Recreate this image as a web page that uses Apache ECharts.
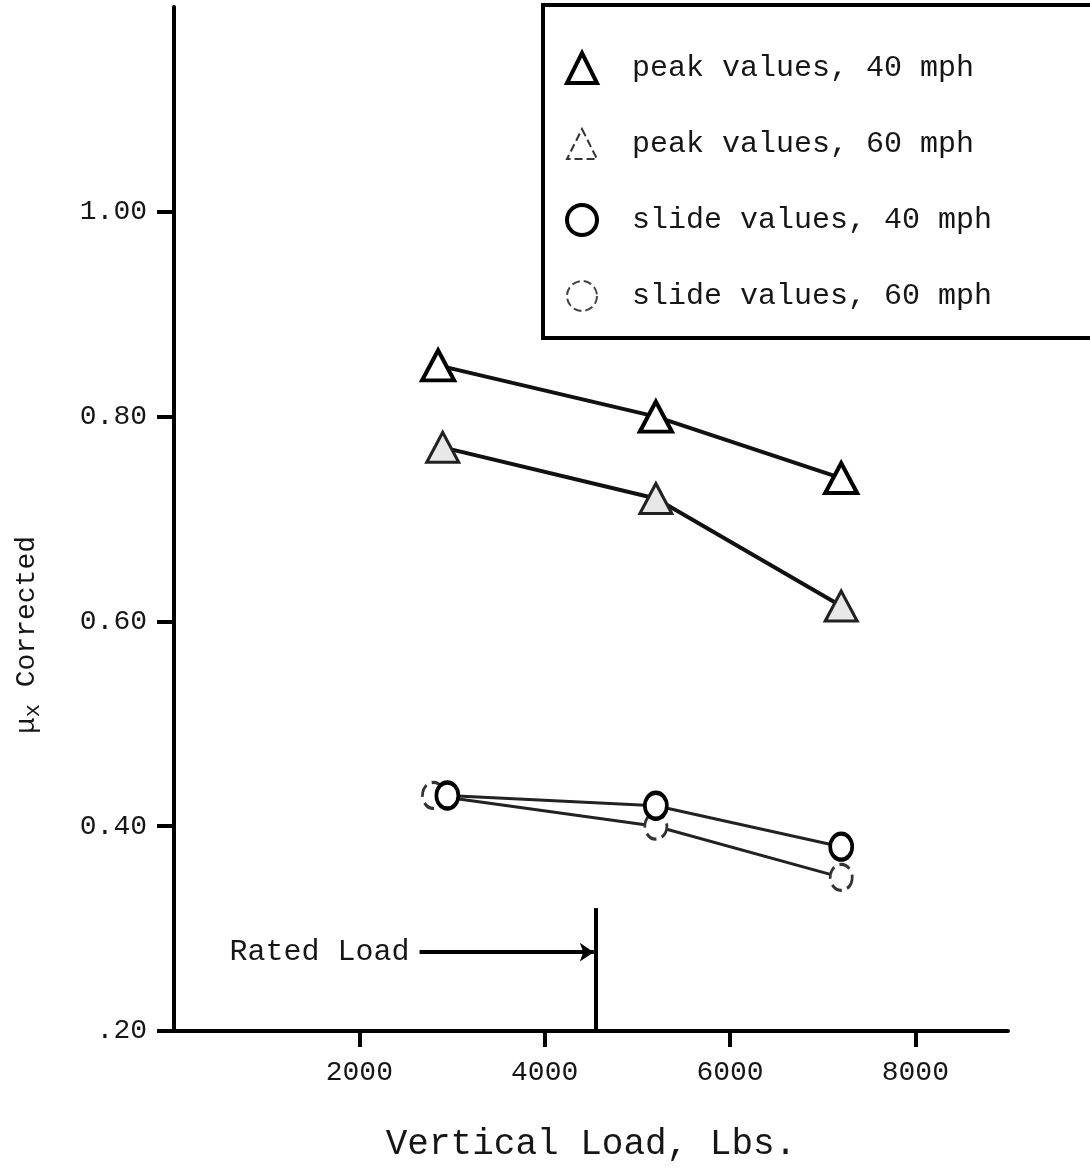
<!DOCTYPE html>
<html>
<head>
<meta charset="utf-8">
<script src="https://cdn.jsdelivr.net/npm/echarts@6.0.0/dist/echarts.min.js"></script>
<style>
html, body { margin: 0; padding: 0; background: #fff; }
#chart { width: 1090px; height: 1171px; }
</style>
</head>
<body>
<div id="chart"></div>
<script>
// data
var seriesNames = ['peak values, 40 mph', 'peak values, 60 mph', 'slide values, 40 mph', 'slide values, 60 mph'];
var peak40Load = [2850, 5200, 7200];
var peak40Mu = [0.85, 0.80, 0.74];
var peak60Load = [2900, 5200, 7200];
var peak60Mu = [0.77, 0.72, 0.615];
var slide40Load = [2950, 5200, 7200];
var slide40Mu = [0.43, 0.42, 0.38];
var slide60Load = [2800, 5200, 7200];
var slide60Mu = [0.43, 0.40, 0.35];
var xTicks = [2000, 4000, 6000, 8000];
var yTicks = [0.2, 0.4, 0.6, 0.8, 1.0];
var ratedLoad = 4550;
var ratedLineTop = 0.32;
var ratedArrowStart = 2650;
var ratedArrowMu = 0.277;

var FONT = 'Liberation Mono';
var INK = '#161616';

function pairs(xs, ys) {
	return xs.map(function (x, i) { return [x, ys[i]]; });
}

var chart = echarts.init(document.getElementById('chart'), null, { renderer: 'canvas' });

var option = {
	backgroundColor: '#fff',
	animation: false,
	grid: {
		left: 174,
		right: 82,
		top: 7,
		bottom: 140,
		containLabel: false,
		outerBoundsMode: 'none'
	},
	legend: {
		orient: 'vertical',
		left: 543,
		top: 5,
		padding: [46, 120, 26, 22],
		itemGap: 43,
		itemWidth: 30,
		itemHeight: 30,
		backgroundColor: '#fff',
		borderColor: '#000',
		borderWidth: 4,
		selectedMode: false,
		lineStyle: { width: 0, opacity: 0 },
		textStyle: {
			fontFamily: FONT,
			fontSize: 30,
			color: INK,
			padding: [0, 0, 0, 30]
		},
		data: [
			{ name: seriesNames[0], icon: 'triangle', itemStyle: { color: '#fff', borderColor: '#000', borderWidth: 4 } },
			{ name: seriesNames[1], icon: 'triangle', itemStyle: { color: '#fff', borderColor: '#333', borderWidth: 2, borderType: 'dashed' } },
			{ name: seriesNames[2], icon: 'circle', itemStyle: { color: '#fff', borderColor: '#000', borderWidth: 4 } },
			{ name: seriesNames[3], icon: 'circle', itemStyle: { color: '#fff', borderColor: '#444', borderWidth: 2, borderType: 'dashed' } }
		]
	},
	xAxis: {
		type: 'value',
		min: 0,
		max: 9000,
		interval: 1000,
		name: 'Vertical Load, Lbs.',
		nameLocation: 'middle',
		nameGap: 95,
		nameTextStyle: { fontFamily: FONT, fontSize: 36, color: INK },
		axisLine: { show: true, onZero: false, lineStyle: { color: '#000', width: 4 } },
		axisTick: { show: true, customValues: xTicks, length: 16, lineStyle: { color: '#000', width: 4 } },
		axisLabel: {
			customValues: xTicks,
			margin: 28,
			fontFamily: FONT,
			fontSize: 28,
			color: INK,
			formatter: function (v) { return String(v); }
		},
		splitLine: { show: false }
	},
	yAxis: {
		type: 'value',
		min: 0.2,
		max: 1.2,
		interval: 0.2,
		name: '{mu|μ}{sub|x} Corrected',
		nameLocation: 'middle',
		nameGap: 130,
		nameTextStyle: {
			fontFamily: FONT,
			fontSize: 28,
			color: INK,
			padding: [0, 232, 0, 0],
			rich: {
				mu: { fontFamily: FONT, fontSize: 28, color: INK },
				sub: { fontFamily: FONT, fontSize: 22, color: INK, verticalAlign: 'bottom', padding: [12, 0, 0, 0] }
			}
		},
		axisLine: { show: true, onZero: false, lineStyle: { color: '#000', width: 4 } },
		axisTick: { show: true, customValues: yTicks, length: 17, lineStyle: { color: '#000', width: 4 } },
		axisLabel: {
			customValues: yTicks,
			margin: 27,
			fontFamily: FONT,
			fontSize: 28,
			color: INK,
			formatter: function (v) {
				return Math.abs(v - 0.2) < 1e-9 ? '.20' : v.toFixed(2);
			}
		},
		splitLine: { show: false }
	},
	series: [
		{
			name: seriesNames[0],
			type: 'line',
			data: pairs(peak40Load, peak40Mu),
			symbol: 'triangle',
			symbolSize: [32, 30],
			lineStyle: { color: '#111', width: 4 },
			itemStyle: { color: '#fff', borderColor: '#000', borderWidth: 4 },
			z: 3,
			markLine: {
				silent: true,
				symbol: ['none', 'none'],
				symbolSize: 14,
				lineStyle: { color: '#000', width: 4, type: 'solid' },
				label: { show: false },
				data: [
					[
						{ coord: [ratedLoad, 0.2], symbol: 'none' },
						{ coord: [ratedLoad, ratedLineTop], symbol: 'none' }
					],
					[
						{
							coord: [ratedArrowStart, ratedArrowMu],
							symbol: 'none',
							label: {
								show: true,
								position: 'start',
								distance: 10,
								formatter: 'Rated Load',
								fontFamily: FONT,
								fontSize: 30,
								color: INK
							}
						},
						{ coord: [ratedLoad - 20, ratedArrowMu], symbol: 'arrow' }
					]
				]
			}
		},
		{
			name: seriesNames[1],
			type: 'line',
			data: pairs(peak60Load, peak60Mu),
			symbol: 'triangle',
			symbolSize: [32, 30],
			lineStyle: { color: '#111', width: 4 },
			itemStyle: { color: '#e8e8e8', borderColor: '#222', borderWidth: 3 },
			z: 3
		},
		{
			name: seriesNames[2],
			type: 'line',
			data: pairs(slide40Load, slide40Mu),
			symbol: 'circle',
			symbolSize: [22, 26],
			lineStyle: { color: '#222', width: 3 },
			itemStyle: { color: '#fff', borderColor: '#000', borderWidth: 4 },
			z: 3
		},
		{
			name: seriesNames[3],
			type: 'line',
			data: pairs(slide60Load, slide60Mu),
			symbol: 'circle',
			symbolSize: [22, 26],
			lineStyle: { color: '#222', width: 3 },
			itemStyle: { color: '#fff', borderColor: '#333', borderWidth: 3, borderType: 'dashed' },
			z: 2
		}
	]
};

chart.setOption(option);

window.onresize = function () {
	chart.resize();
};
</script>
</body>
</html>
